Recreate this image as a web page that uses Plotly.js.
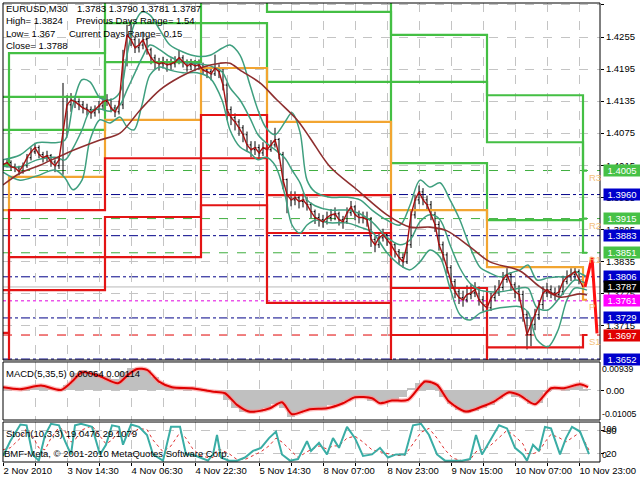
<!DOCTYPE html>
<html><head><meta charset="utf-8">
<script src="https://cdn.plot.ly/plotly-3.0.1.min.js"></script>
<style>html,body{margin:0;padding:0;background:#fff}#chart{width:640px;height:480px}</style>
</head><body><div id="chart"></div>
<script>
// ---------- price bars (one bar per 2 x M30 slots) ----------
const barStep = 2;
const firstOpen = 1.4010;
const closes = [1.4016,1.4020,1.4012,1.4010,1.4003,1.4014,1.4029,1.4040,1.4048,1.4035,
 1.4029,1.4033,1.4021,1.4014,1.4025,1.4081,1.4128,1.4137,1.4134,1.4128,
 1.4122,1.4119,1.4113,1.4119,1.4126,1.4134,1.4137,1.4122,1.4115,1.4128,
 1.4212,1.4259,1.4250,1.4235,1.4240,1.4250,1.4231,1.4216,1.4208,1.4205,
 1.4207,1.4203,1.4205,1.4208,1.4216,1.4208,1.4201,1.4205,1.4201,1.4203,
 1.4193,1.4190,1.4186,1.4197,1.4190,1.4165,1.4119,1.4104,1.4096,1.4085,
 1.4072,1.4053,1.4044,1.4048,1.4038,1.4048,1.4044,1.4053,1.4063,1.4035,
 1.3988,1.3960,1.3950,1.3954,1.3947,1.3950,1.3941,1.3928,1.3917,1.3913,
 1.3909,1.3917,1.3922,1.3924,1.3913,1.3909,1.3926,1.3937,1.3922,1.3917,
 1.3917,1.3913,1.3876,1.3866,1.3879,1.3885,1.3876,1.3866,1.3853,1.3842,
 1.3834,1.3866,1.3922,1.3950,1.3965,1.3950,1.3941,1.3922,1.3904,1.3866,
 1.3847,1.3823,1.3797,1.3778,1.3767,1.3763,1.3773,1.3776,1.3782,1.3763,
 1.3754,1.3748,1.3767,1.3776,1.3786,1.3801,1.3810,1.3791,1.3778,1.3773,
 1.3735,1.3698,1.3717,1.3735,1.3754,1.3776,1.3782,1.3776,1.3773,1.3778,
 1.3797,1.3806,1.3810,1.3816,1.3801,1.3787];
const highs = [1.4024,1.4027,1.4024,1.4018,1.4014,1.4020,1.4036,1.4048,1.4057,1.4052,
 1.4040,1.4042,1.4036,1.4026,1.4031,1.4169,1.4146,1.4150,1.4145,1.4140,
 1.4135,1.4130,1.4125,1.4127,1.4135,1.4142,1.4148,1.4140,1.4128,1.4136,
 1.4231,1.4278,1.4287,1.4256,1.4252,1.4265,1.4254,1.4235,1.4222,1.4216,
 1.4218,1.4214,1.4215,1.4219,1.4231,1.4221,1.4213,1.4214,1.4212,1.4213,
 1.4207,1.4200,1.4197,1.4222,1.4204,1.4195,1.4170,1.4125,1.4112,1.4101,
 1.4090,1.4078,1.4060,1.4060,1.4054,1.4058,1.4056,1.4062,1.4085,1.4066,
 1.4040,1.3990,1.3966,1.3966,1.3960,1.3962,1.3956,1.3945,1.3932,1.3925,
 1.3922,1.3928,1.3933,1.3936,1.3928,1.3920,1.3936,1.3948,1.3940,1.3930,
 1.3928,1.3928,1.3918,1.3882,1.3890,1.3896,1.3890,1.3880,1.3870,1.3858,
 1.3850,1.3872,1.3930,1.3960,1.3977,1.3972,1.3958,1.3948,1.3928,1.3910,
 1.3872,1.3852,1.3828,1.3802,1.3785,1.3780,1.3790,1.3792,1.3796,1.3788,
 1.3770,1.3762,1.3776,1.3790,1.3800,1.3815,1.3824,1.3815,1.3796,1.3790,
 1.3780,1.3742,1.3728,1.3746,1.3762,1.3788,1.3795,1.3790,1.3786,1.3790,
 1.3808,1.3818,1.3822,1.3824,1.3820,1.3804];
const lows = [1.4006,1.4011,1.4005,1.4002,1.3996,1.3999,1.4010,1.4024,1.4036,1.4028,
 1.4020,1.4022,1.4012,1.4002,1.4008,1.3997,1.4070,1.4115,1.4122,1.4118,
 1.4112,1.4108,1.4102,1.4106,1.4112,1.4120,1.4126,1.4114,1.4105,1.4110,
 1.4120,1.4200,1.4238,1.4225,1.4226,1.4232,1.4222,1.4204,1.4195,1.4192,
 1.4196,1.4190,1.4194,1.4198,1.4204,1.4198,1.4190,1.4193,1.4191,1.4193,
 1.4184,1.4178,1.4174,1.4182,1.4178,1.4155,1.4100,1.4090,1.4080,1.4070,
 1.4058,1.4040,1.4030,1.4034,1.4026,1.4032,1.4032,1.4040,1.4048,1.4026,
 1.3970,1.3925,1.3938,1.3940,1.3934,1.3936,1.3930,1.3916,1.3905,1.3900,
 1.3898,1.3904,1.3910,1.3912,1.3902,1.3896,1.3905,1.3920,1.3912,1.3906,
 1.3906,1.3900,1.3862,1.3852,1.3860,1.3872,1.3864,1.3855,1.3842,1.3830,
 1.3823,1.3830,1.3860,1.3915,1.3942,1.3940,1.3930,1.3912,1.3890,1.3855,
 1.3836,1.3812,1.3786,1.3766,1.3755,1.3750,1.3758,1.3764,1.3768,1.3752,
 1.3742,1.3736,1.3742,1.3760,1.3770,1.3780,1.3795,1.3780,1.3766,1.3760,
 1.3722,1.3670,1.3676,1.3706,1.3725,1.3745,1.3768,1.3766,1.3762,1.3764,
 1.3772,1.3792,1.3798,1.3800,1.3792,1.3781];

// ---------- moving average (brown) ----------
const maX = [0,8.5,18.5,32,48.5,58.5,68.5,78.5,88.5,98.5,108.5,113.5,118.5,128.5,137,147,153.5,163.5,177,192,203.5,213.5,222,233.5,243.5,258.5,268.5,278.5,288.5,292];
const maY = [1.3978,1.4000,1.4015,1.4038,1.4062,1.4075,1.4118,1.4156,1.4180,1.4197,1.4206,1.4206,1.4193,1.4169,1.4137,1.4100,1.4066,1.4012,1.3969,1.3922,1.3899,1.3899,1.3892,1.3862,1.3834,1.3817,1.3787,1.3768,1.3774,1.3772];

// ---------- Bollinger bands ----------
const bbX = [0,8.5,17,26,31,35,39.5,43.5,48.5,53.5,58.5,62,65.5,69.5,73.5,78.5,83.5,90,97,103.5,109.5,113.5,118.5,123.5,127.5,131.5,136,141,144.5,148.5,152,156,163.5,172,178.5,184.5,192,198.5,203.5,208.5,213.5,218.5,223.5,228.5,233.5,238.5,243.5,248.5,253.5,258.5,262.5,267,272.5,277.5,282,286,292];
const bbUpper = [1.4025,1.4034,1.4057,1.4057,1.4062,1.4128,1.4175,1.4171,1.4141,1.4137,1.4152,1.4221,1.4278,1.4302,1.4296,1.4268,1.4240,1.4227,1.4219,1.4221,1.4234,1.4240,1.4221,1.4165,1.4118,1.4085,1.4072,1.4096,1.4113,1.4077,1.3987,1.3965,1.3955,1.3955,1.3950,1.3931,1.3912,1.3903,1.3940,1.3987,1.3974,1.3982,1.3950,1.3912,1.3862,1.3824,1.3813,1.3806,1.3813,1.3819,1.3828,1.3800,1.3804,1.3806,1.3806,1.3815,1.3806];
const bbMiddle = [1.4013,1.4012,1.4025,1.4030,1.4025,1.4047,1.4081,1.4116,1.4120,1.4116,1.4128,1.4156,1.4184,1.4216,1.4240,1.4231,1.4218,1.4208,1.4205,1.4201,1.4190,1.4160,1.4137,1.4103,1.4072,1.4057,1.4044,1.4028,1.4006,1.3982,1.3950,1.3939,1.3931,1.3931,1.3924,1.3909,1.3880,1.3866,1.3875,1.3909,1.3922,1.3913,1.3866,1.3822,1.3794,1.3781,1.3778,1.3778,1.3781,1.3785,1.3785,1.3748,1.3744,1.3763,1.3785,1.3800,1.3793];
const bbLower = [1.4002,1.3987,1.3995,1.4006,1.3991,1.3969,1.3987,1.4062,1.4100,1.4094,1.4105,1.4087,1.4081,1.4128,1.4184,1.4199,1.4193,1.4188,1.4188,1.4178,1.4137,1.4081,1.4049,1.4038,1.4025,1.4030,1.4015,1.3959,1.3903,1.3888,1.3903,1.3912,1.3907,1.3907,1.3899,1.3890,1.3851,1.3828,1.3819,1.3834,1.3856,1.3843,1.3785,1.3735,1.3725,1.3738,1.3744,1.3748,1.3750,1.3750,1.3740,1.3688,1.3675,1.3706,1.3763,1.3785,1.3781];

// ---------- daily pivot levels ----------
const pivotDays = [0,3,51,99,132,194,242,290,292];
const pivR3 = [1.4143,1.4225,1.4350,1.4420,1.4340,1.4259,1.4146,1.4005,1.4005];
const pivR2 = [1.4081,1.4143,1.4281,1.4340,1.4302,1.4171,1.4058,1.3915,1.3915];
const pivR1 = [1.4015,1.4081,1.4208,1.4281,1.4171,1.4019,1.3912,1.3851,1.3851];
const pivP  = [1.3931,1.3993,1.4100,1.4197,1.4096,1.3931,1.3824,1.3763,1.3763];
const pivS1 = [1.3781,1.3931,1.4028,1.4109,1.3959,1.3785,1.3674,1.3697,1.3697];
const pivS2 = [1.3701,1.3843,1.3918,1.4028,1.3888,1.3697,1.3590,1.3600,1.3600];
const pivS3 = [1.3620,1.3781,1.3843,1.3940,1.3757,1.3610,1.3500,1.3500,1.3500];

// ---------- today's levels / labels ----------
const greenLevels = [1.4005,1.3915,1.3851];
const blueLevels = [1.3960,1.3883,1.3806,1.3729,1.3652];
const magentaLevel = 1.3761;
const redLevel = 1.3697;
const bidPrice = 1.3787;
const levelTags = ['R3','R2','R1','P','S1'];
const levelTagValues = [1.4005,1.3915,1.3851,1.3763,1.3697];
const rangeArrowX = [291,294.5,297];
const rangeArrowY = [1.3787,1.3843,1.3700];

// ---------- MACD ----------
const macdHistX = Array.from({length:74},(_, j)=>j*4);
const macdHist = [0.00108,0.00085,0.00051,0.00074,0.00131,0.00165,0.00097,0.00028,0.00188,0.00586,
 0.00699,0.00665,0.00586,0.00506,0.00392,0.00642,0.00756,0.00779,0.00699,0.00472,
 0.00210,0.00108,0.00074,0.00074,0.00074,0.00040,0.00006,-0.00017,-0.00324,-0.00608,
 -0.00745,-0.00779,-0.00722,-0.00608,-0.00472,-0.00608,-0.00893,-0.00779,-0.00665,-0.00631,
 -0.00608,-0.00495,-0.00472,-0.00358,-0.00222,-0.00244,-0.00347,-0.00404,-0.00347,-0.00313,
 -0.00210,0.00074,0.00244,0.00358,0.00210,-0.00210,-0.00472,-0.00665,-0.00779,-0.00699,
 -0.00608,-0.00495,-0.00290,-0.00131,-0.00210,-0.00267,-0.00472,-0.00438,-0.00040,0.00108,
 0.00097,0.00108,0.00210,0.00064];
const macdSigX = [0,8.5,19,29,34.5,39.5,47.5,57.5,62.5,67,72,78,84.5,94.5,104.5,111,117,123,128.5,133.5,139.5,144.5,153.5,162,170,176,184.5,188.5,194.5,202.5,211,217,223,231.5,239.5,245.5,253,258,266,274,280.5,288.5,292.5];
const macdSig = [0.00108,0.00040,0.00165,0.00017,0.00301,0.00620,0.00506,0.00244,0.00529,0.00733,0.00699,0.00301,0.00108,0.00074,-0.00040,-0.00097,-0.00495,-0.00722,-0.00699,-0.00608,-0.00404,-0.00813,-0.00642,-0.00608,-0.00438,-0.00233,-0.00267,-0.00438,-0.00347,-0.00324,0.00301,0.00188,-0.00381,-0.00722,-0.00551,-0.00381,-0.00063,-0.00153,-0.00472,0.00074,0.00074,0.00210,0.00114];

// ---------- Stochastic ----------
const stX = [0,3.6,8.7,11.8,14.8,17.9,21,24,28,31, 34,36,39,44.5,48.5,51.5,54.5,58,60,64, 68,72,75,80,84,88.5,91.5,94.5,98.5,102.5, 105,107,109,113,117,121,125,129,133,136.5, 139.5,143.5,147.5,152,154,158,162,165,168,172, 176,180,184.5,188.5,192.5,196.5,201,205,209,213, 217,221,225,229.5,233.5,236.5,239.5,243.5,248,252, 256,260,262,265,268,271,274,278.5,281.5,284.5, 288.5,293];
const stMain = [14,52,95,93,18,2,68,97,93,52, 18,93,97,89,18,43,93,89,43,95, 89,68,18,2,89,89,18,18,10,2, 18,68,10,2,2,10,27,35,60,77, 18,2,6,52,27,48,18,60,35,89, 60,14,18,35,10,18,18,93,97,68, 18,2,2,2,6,68,18,52,93,85, 35,18,2,43,27,89,85,18,60,89, 77,19.05];
const stSignal = [30,35,60,85,65,35,30,60,88,78, 50,55,80,92,65,45,55,80,70,70, 85,82,55,25,40,75,60,35,15,10, 10,30,30,20,5,5,15,25,40,60, 50,30,10,25,30,40,32,40,40,60, 65,50,30,25,20,15,16,45,75,85, 60,30,8,2,4,25,30,40,60,80, 65,45,20,20,25,50,70,60,50,60, 75,29.11];

// ---------- axes labels ----------
const timeTickBars = [0,16,32,48,64,80,96,112,128,144,160,176,192,208,224,240,256,272,288];
const timeTickText = ['2 Nov 2010','','3 Nov 14:30','','4 Nov 06:30','','4 Nov 22:30','','5 Nov 14:30','','8 Nov 07:00','','8 Nov 23:00','','9 Nov 15:00','','10 Nov 07:00','','10 Nov 23:00'];
const priceTicks = [1.4315,1.4255,1.4195,1.4135,1.4075,1.4015,1.3955,1.3895,1.3835,1.3775,1.3715];

// ================= build =================
const FONT = 'Liberation Sans, Arial, sans-serif';
const barX = closes.map((_, i) => i * barStep);
const opens = [firstOpen].concat(closes.slice(0, -1));
const GREEN = '#44bf44', ORANGE = '#f2a531', RED = '#e31414';

const traces = [];
const pivSeries = [[pivR3,GREEN],[pivR2,GREEN],[pivR1,GREEN],[pivP,ORANGE],[pivS1,RED],[pivS2,RED],[pivS3,RED]];
pivSeries.forEach(([ys,c]) => traces.push({type:'scatter',mode:'lines',x:pivotDays,y:ys,xaxis:'x',yaxis:'y',
  line:{color:c,width:2.2,shape:'hv'},hoverinfo:'skip'}));
[bbUpper,bbMiddle,bbLower].forEach(ys => traces.push({type:'scatter',mode:'lines',x:bbX,y:ys,xaxis:'x',yaxis:'y',
  line:{color:'#3f9f7f',width:1.5,shape:'spline',smoothing:0.9},hoverinfo:'skip'}));
traces.push({type:'scatter',mode:'lines',x:maX,y:maY,xaxis:'x',yaxis:'y',line:{color:'#8e2f2f',width:1.6,shape:'spline',smoothing:0.9}});
traces.push({type:'ohlc',x:barX,open:opens,high:highs,low:lows,close:closes,xaxis:'x',yaxis:'y',tickwidth:0.35,
  increasing:{line:{color:'#000000',width:1}},decreasing:{line:{color:'#000000',width:1}}});
traces.push({type:'scatter',mode:'lines',x:barX,y:closes,xaxis:'x',yaxis:'y',line:{color:'#a81010',width:1.4}});
traces.push({type:'scatter',mode:'lines',x:rangeArrowX,y:rangeArrowY,xaxis:'x',yaxis:'y',line:{color:'#ff1010',width:3}});
// MACD
traces.push({type:'bar',x:macdHistX,y:macdHist,xaxis:'x',yaxis:'y2',width:4,marker:{color:'#c0c0c0',line:{width:0}}});
traces.push({type:'scatter',mode:'lines',x:macdSigX,y:macdSig,xaxis:'x',yaxis:'y2',line:{color:'rgba(255,140,140,0.6)',width:4.5,shape:'spline',smoothing:0.7}});
traces.push({type:'scatter',mode:'lines',x:macdSigX,y:macdSig,xaxis:'x',yaxis:'y2',line:{color:'#e00000',width:2,shape:'spline',smoothing:0.7}});
// Stoch
traces.push({type:'scatter',mode:'lines',x:stX,y:stSignal,xaxis:'x',yaxis:'y3',line:{color:'#e03030',width:1,dash:'dot'}});
traces.push({type:'scatter',mode:'lines',x:stX,y:stMain,xaxis:'x',yaxis:'y3',line:{color:'#3aada5',width:2}});

const shapes = [];
const hl = (v,c,d,w) => shapes.push({type:'line',xref:'paper',x0:0,x1:1,yref:'y',y0:v,y1:v,line:{color:c,width:w||1,dash:d},layer:'below'});
greenLevels.forEach(v => hl(v,'#3fae3f','dash'));
blueLevels.forEach(v => hl(v,'#000088','dashdot'));
hl(magentaLevel,'#e000e0','dot');
hl(redLevel,'#e00000','dash');
hl(bidPrice,'#b8b8b8','solid');
// panel frames
const frames = [[0.2222,1],[0.0915,0.2179],[0,0.0871]];
frames.forEach(([a,b]) => shapes.push({type:'rect',xref:'paper',yref:'paper',x0:0,x1:1,y0:a,y1:b,line:{color:'#000',width:1},fillcolor:'rgba(0,0,0,0)',layer:'above'}));

const ann = [];
const px2x = px => (px-3)/597, py2y = py => (462-py)/459;
const txt = (px,py,s,c) => ann.push({xref:'paper',yref:'paper',x:px2x(px),y:py2y(py),text:s,showarrow:false,xanchor:'left',yanchor:'middle',font:{family:FONT,size:9.5,color:c||'#000'},borderpad:0});
txt(5,9,'EURUSD,M30'); txt(76,9,'1.3783 1.3790 1.3781 1.3787');
txt(5,21,'High= 1.3824'); txt(75,21,'Previous Days Range= 1.54');
txt(5,33,'Low= 1.367'); txt(68,33,'Current Days Range= 0.15');
txt(5,45,'Close= 1.3788');
txt(5,373,'MACD(5,35,5) 0.00064 0.00114');
txt(5,433,'Stoch(10,3,3) 19.0476 29.1079');
txt(3,453,'BMF-Meta, © 2001-2010 MetaQuotes Software Corp.');
levelTags.forEach((t,i) => ann.push({xref:'x',yref:'y',x:292.5,y:levelTagValues[i],text:t,showarrow:false,xanchor:'left',yanchor:'top',font:{family:FONT,size:9.5,color:'#f3c07a'},borderpad:0}));
const box = (v,bg) => ann.push({xref:'paper',yref:'y',x:1,y:v,xanchor:'left',yanchor:'middle',xshift:3,text:v.toFixed(4),showarrow:false,
  bgcolor:bg,width:36,height:11,borderpad:0,font:{family:FONT,size:9.5,color:'#fff'}});
greenLevels.forEach(v => box(v,'#46c146'));
blueLevels.forEach(v => box(v,'#0000cc'));
box(bidPrice,'#000000'); box(magentaLevel,'#ff00ff'); box(redLevel,'#e00000');
const sideLab = (yref,v,s,anchor) => ann.push({xref:'paper',yref:yref,x:1,y:v,xanchor:'left',yanchor:anchor,xshift:1,text:s,showarrow:false,borderpad:0,font:{family:FONT,size:8.7,color:'#000'}});
sideLab('y2',0.00939,'0.00939','top'); sideLab('y2',-0.01005,'-0.01005','bottom');
sideLab('y3',100,'100','top'); sideLab('y3',0,'0','bottom');

const grid = {showgrid:true,gridcolor:'#c4c4c4',griddash:'dash',gridwidth:1,zeroline:false};
const layout = {
  width:640,height:480,margin:{l:3,r:40,t:3,b:18},paper_bgcolor:'#fff',plot_bgcolor:'#fff',showlegend:false,
  font:{family:FONT,size:9.5,color:'#000'},bargap:0,hovermode:false,
  xaxis:Object.assign({range:[0,298.5],anchor:'y3',tickmode:'array',tickvals:timeTickBars,ticktext:timeTickText,ticks:'outside',ticklen:3,
    tickangle:0,tickcolor:'#000',ticklabelposition:'outside right',rangeslider:{visible:false},fixedrange:true,showline:false},grid),
  yaxis:Object.assign({domain:[0.2222,1],range:[1.36502,1.43187],side:'right',anchor:'x',tickmode:'array',tickvals:priceTicks,tickformat:'.4f',
    ticks:'outside',ticklen:3,tickcolor:'#000',fixedrange:true},grid),
  yaxis2:Object.assign({domain:[0.0915,0.2179],range:[-0.0101,0.0097],side:'right',anchor:'x',tickmode:'array',tickvals:[0],ticktext:['0.00'],
    ticks:'outside',ticklen:3,tickcolor:'#000',fixedrange:true},grid),
  yaxis3:Object.assign({domain:[0,0.0871],range:[-1.5,101.5],side:'right',anchor:'x',tickmode:'array',tickvals:[20,80],ticktext:['20','80'],
    ticks:'outside',ticklen:3,tickcolor:'#000',fixedrange:true},grid),
  shapes:shapes,annotations:ann
};
Plotly.newPlot('chart',traces,layout,{staticPlot:true,displayModeBar:false});
</script></body></html>
